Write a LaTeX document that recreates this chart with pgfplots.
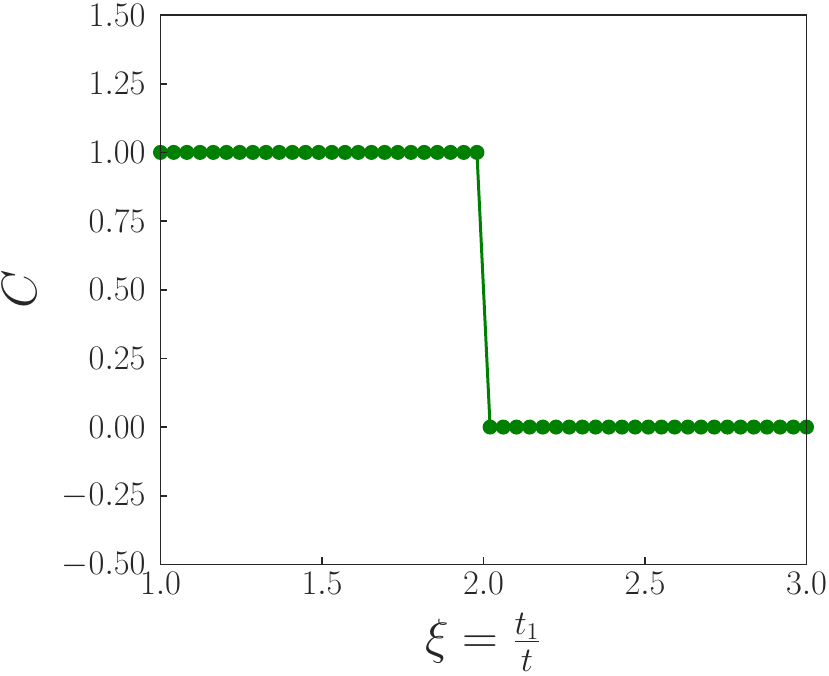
\documentclass[border=0pt]{standalone}
\usepackage{pgfplots}
\pgfplotsset{compat=1.18}
\definecolor{mplgreen}{RGB}{0,128,0}
\definecolor{axgray}{RGB}{38,38,38}
\begin{document}
\begin{tikzpicture}
\begin{axis}[
  width=324pt, height=275.5pt, scale only axis,
  xmin=1, xmax=3, ymin=-0.5, ymax=1.5,
  xtick={1,1.5,2,2.5,3},
  ytick={-0.5,-0.25,0,0.25,0.5,0.75,1,1.25,1.5},
  xticklabel style={inner xsep=1pt, yshift=-0.5pt, /pgf/number format/.cd, fixed, fixed zerofill, precision=1},
  yticklabel style={inner ysep=2pt, xshift=-4pt, /pgf/number format/.cd, fixed, fixed zerofill, precision=2},
  tick align=inside,
  xtick pos=bottom, ytick pos=left,
  major tick length=3.5pt,
  axis line style={axgray, line width=0.8pt},
  every tick/.style={axgray, line width=0.8pt},
  tick label style={font=\fontsize{17.5}{20}\selectfont, text=axgray},
  xlabel={$\xi = \frac{t_1}{t}$},
  ylabel={$C$},
  xlabel style={inner sep=2pt, font=\fontsize{26}{30}\selectfont, text=axgray, at={(axis description cs:0.5,0)}, anchor=center, yshift=-39pt},
  ylabel style={inner sep=1.5pt, font=\fontsize{30}{34}\selectfont, text=axgray, at={(axis description cs:0,0.5)}, anchor=center, yshift=70.5pt},
  axis on top,
  clip mode=individual,
]
\addplot[mplgreen, line width=1.5pt, mark=*, mark size=3pt, mark options={fill=mplgreen, draw=mplgreen}] coordinates {
(1.0000,1)(1.0408,1)(1.0816,1)(1.1224,1)(1.1633,1)(1.2041,1)(1.2449,1)(1.2857,1)(1.3265,1)(1.3673,1)
(1.4082,1)(1.4490,1)(1.4898,1)(1.5306,1)(1.5714,1)(1.6122,1)(1.6531,1)(1.6939,1)(1.7347,1)(1.7755,1)
(1.8163,1)(1.8571,1)(1.8980,1)(1.9388,1)(1.9796,1)
(2.0204,0)(2.0612,0)(2.1020,0)(2.1429,0)(2.1837,0)(2.2245,0)(2.2653,0)(2.3061,0)(2.3469,0)(2.3878,0)
(2.4286,0)(2.4694,0)(2.5102,0)(2.5510,0)(2.5918,0)(2.6327,0)(2.6735,0)(2.7143,0)(2.7551,0)(2.7959,0)
(2.8367,0)(2.8776,0)(2.9184,0)(2.9592,0)(3.0000,0)
};
\end{axis}
\end{tikzpicture}
\end{document}
